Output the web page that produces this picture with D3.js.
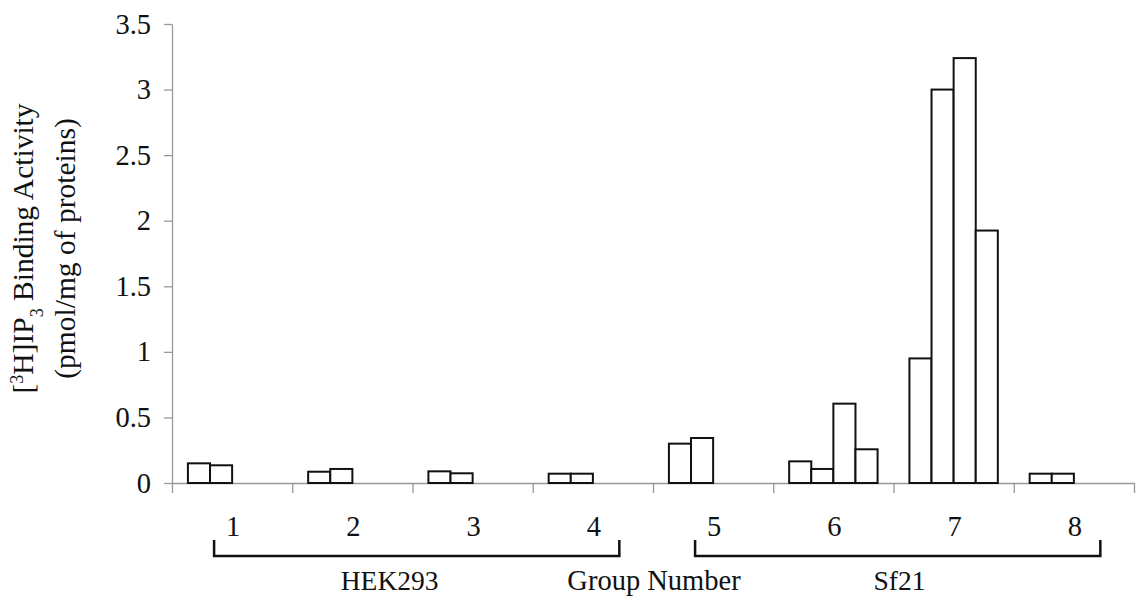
<!DOCTYPE html>
<html>
    <head>
        <meta charset="utf-8" />
        <title>IP3 Binding Activity</title>
        <script src="https://d3js.org/d3.v7.min.js"></script>
        <style>
            body {
                margin: 0px;
                background: white;
            }

            svg text {
                font-family: "Liberation Serif", "Times New Roman", Tinos, "DejaVu Serif", serif !important;
                fill: #111;
            }

            .axis path, .axis line {
                stroke: #999;
                stroke-width: 1.3px;
            }
        </style>
    </head>
    <body>
        <svg id="chart"></svg>
        <script>

        // data
        var groups = ["1", "2", "3", "4", "5", "6", "7", "8"];
        var rep1 = [0.15, 0.086, 0.089, 0.071, 0.30, 0.165, 0.95, 0.071];
        var rep2 = [0.135, 0.107, 0.074, 0.071, 0.343, 0.107, 3.0, 0.071];
        var rep3 = [null, null, null, null, null, 0.605, 3.24, null];
        var rep4 = [null, null, null, null, null, 0.257, 1.925, null];
        var yTicks = [0, 0.5, 1, 1.5, 2, 2.5, 3, 3.5];
        var cellLines = ["HEK293", "Sf21"];
        var cellLineGroups = [["1", "4"], ["5", "8"]];

        var width = 1136;
        var height = 601;
        var margin = {
            top: 24,
            right: 2,
            bottom: 118,
            left: 172
        };

        var serif = '"Liberation Serif", "Times New Roman", Tinos, "DejaVu Serif", serif';
        var chartHeight = height - margin.top - margin.bottom;

        var svg = d3.select("#chart")
            .attr("width", width)
            .attr("height", height);

        var x0 = d3.scaleBand()
            .domain(groups)
            .range([margin.left, width - margin.right])
            .padding(0);

        var bw = x0.bandwidth();

        var series = [rep1, rep2, rep3, rep4];

        var x1 = d3.scaleBand()
            .domain(d3.range(series.length))
            .range([0, bw])
            .paddingInner(0)
            .paddingOuter(0.72);

        var y = d3.scaleLinear()
            .domain([0, 3.5])
            .range([margin.top + chartHeight, margin.top]);

        // boundary ticks between groups, excel style
        var xb = d3.scaleLinear()
            .domain([0, groups.length])
            .range(x0.range());

        svg.append("g")
            .attr("class", "axis")
            .attr("transform", "translate(0," + y(0) + ")")
            .call(d3.axisBottom(xb)
                .tickValues(d3.range(groups.length + 1))
                .tickFormat("")
                .tickSize(10)
                .tickSizeOuter(0));

        svg.append("g")
            .attr("class", "axis")
            .attr("transform", "translate(" + margin.left + ",0)")
            .call(d3.axisLeft(y)
                .tickValues(yTicks)
                .tickFormat(function(d) { return String(d); })
                .tickSize(8)
                .tickSizeOuter(0)
                .tickPadding(13))
            .call(function(g) {
                g.attr("font-family", serif);
                g.selectAll("text")
                    .style("font-size", "28.5px")
                    .style("font-family", serif)
                    .attr("fill", "#111");
            });

        // bars
        var flat = [];
        groups.forEach(function(g, i) {
            series.forEach(function(s, j) {
                if (s[i] != null) flat.push({ group: g, slot: j, value: s[i] });
            });
        });

        svg.append("g").selectAll(".bar")
            .data(flat)
            .enter().append("rect")
            .attr("class", "bar")
            .attr("x", function(d) { return x0(d.group) + x1(d.slot); })
            .attr("width", x1.bandwidth())
            .attr("y", function(d) { return y(d.value); })
            .attr("height", function(d) { return y(0) - y(d.value); })
            .attr("fill", "white")
            .attr("stroke", "#111")
            .attr("stroke-width", 2);

        // group numbers
        svg.append("g").selectAll(".glabel")
            .data(groups)
            .enter().append("text")
            .attr("class", "glabel")
            .attr("x", function(d) { return x0(d) + bw / 2 + 1; })
            .attr("y", y(0) + 53)
            .style("font-family", serif)
            .style("font-size", "28.5px")
            .style("text-anchor", "middle")
            .text(function(d) { return d; });

        // brackets
        var bracketTop = y(0) + 57;
        var bracketBottom = y(0) + 73;
        svg.append("g").selectAll(".bracket")
            .data(cellLineGroups)
            .enter().append("path")
            .attr("class", "bracket")
            .attr("d", function(d) {
                var a = x0(d[0]) + bw * 0.35;
                var b = x0(d[1]) + bw * 0.72;
                return "M" + a + "," + bracketTop + "V" + bracketBottom +
                    "H" + b + "V" + bracketTop;
            })
            .attr("fill", "none")
            .attr("stroke", "#111")
            .attr("stroke-width", 2.5);

        var nameX = [x0("3") - bw * 0.19, x0("7") + bw * 0.05];
        svg.append("g").selectAll(".cell")
            .data(cellLines)
            .enter().append("text")
            .attr("class", "cell")
            .attr("x", function(d, i) { return nameX[i]; })
            .attr("y", y(0) + 107)
            .style("font-family", serif)
            .style("font-size", "27.5px")
            .style("text-anchor", "middle")
            .text(function(d) { return d; });

        svg.append("text")
            .attr("x", x0("5") + 1)
            .attr("y", y(0) + 107)
            .style("font-family", serif)
            .style("font-size", "28.5px")
            .style("text-anchor", "middle")
            .text("Group Number");

        // y title, two lines
        var midY = (y(0) + y(3.5)) / 2 - 5;
        var t1 = svg.append("text")
            .attr("transform", "translate(33," + midY + ") rotate(-90)")
            .style("font-family", serif)
            .style("font-size", "29.5px")
            .style("text-anchor", "middle");
        t1.append("tspan").text("[");
        t1.append("tspan").attr("baseline-shift", "super").style("font-size", "18px").text("3");
        t1.append("tspan").text("H]IP");
        t1.append("tspan").attr("baseline-shift", "sub").style("font-size", "18px").text("3");
        t1.append("tspan").text(" Binding Activity");

        svg.append("text")
            .attr("transform", "translate(75," + midY + ") rotate(-90)")
            .style("font-family", serif)
            .style("font-size", "29.5px")
            .style("text-anchor", "middle")
            .text("(pmol/mg of proteins)");

        </script>
    </body>
</html>
